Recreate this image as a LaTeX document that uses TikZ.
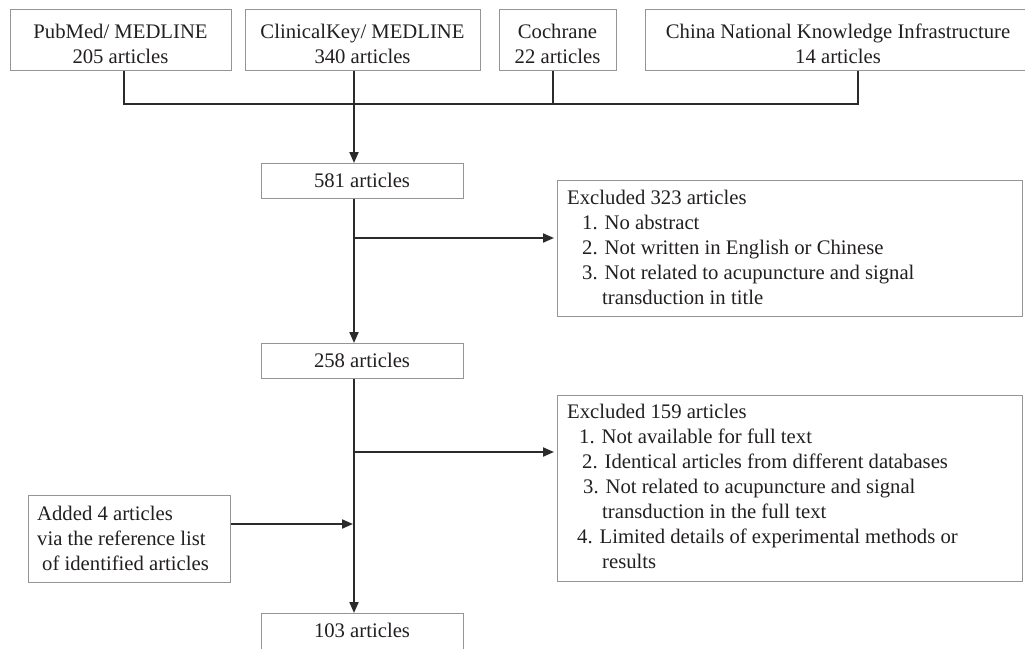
\documentclass[tikz,border=0pt]{standalone}
\usepackage{fontspec}
\setmainfont{Liberation Serif}
\usetikzlibrary{arrows.meta}
\definecolor{boxgray}{HTML}{959595}
\definecolor{linecol}{HTML}{2B2B2B}
\definecolor{txtcol}{HTML}{231F20}
\begin{document}
\begin{tikzpicture}[x=1pt,y=-1pt,
  box/.style={draw=boxgray, line width=1.4pt, inner sep=0pt, anchor=north west},
  txt/.style={inner sep=0pt, text=txtcol, font=\fontsize{20.7}{25}\selectfont},
  conn/.style={draw=linecol, line width=2pt},
  arr/.style={conn, -{Triangle[length=11pt,width=9pt]}}]
\useasboundingbox (0,0) rectangle (1025,648);
\clip (0,0) rectangle (1025,648);
% boxes
\node[box, minimum width=221pt, minimum height=61pt] (pub) at (10,9) {};
\node[box, minimum width=235pt, minimum height=61pt] (ck) at (245,9) {};
\node[box, minimum width=117pt, minimum height=61pt] (coch) at (499,9) {};
\node[box, minimum width=386pt, minimum height=61pt] (cnki) at (645,9) {};
\node[box, minimum width=202pt, minimum height=35pt] (n581) at (261,163) {};
\node[box, minimum width=465pt, minimum height=136pt] (ex1) at (557,180) {};
\node[box, minimum width=202pt, minimum height=35pt] (n258) at (261,343) {};
\node[box, minimum width=465pt, minimum height=186pt] (ex2) at (557,395) {};
\node[box, minimum width=202pt, minimum height=87pt] (added) at (28,495) {};
\node[box, minimum width=202pt, minimum height=40pt] (n103) at (261,613) {};
% texts
\node[txt, anchor=base] (tpub) at (120.5,38) {\begin{tabular}[t]{@{}c@{}}PubMed/ MEDLINE\\205 articles\end{tabular}};
\node[txt, anchor=base] (tck) at (362.5,38) {\begin{tabular}[t]{@{}c@{}}ClinicalKey/ MEDLINE\\340 articles\end{tabular}};
\node[txt, anchor=base] (tcoch) at (557.5,38) {\begin{tabular}[t]{@{}c@{}}Cochrane\\22 articles\end{tabular}};
\node[txt, anchor=base] (tcnki) at (838,38) {\begin{tabular}[t]{@{}c@{}}China National Knowledge Infrastructure\\14 articles\end{tabular}};
\node[txt, anchor=base] (t581) at (362,187) {581 articles};
\node[txt, anchor=base] (t258) at (362,367) {258 articles};
\node[txt, anchor=base] (t103) at (362,637) {103 articles};
\node[txt, anchor=base west] (tex1) at (567,204) {\begin{tabular}[t]{@{}l@{}}Excluded 323 articles\\
\hspace*{15pt}1. No abstract\\
\hspace*{15pt}2. Not written in English or Chinese\\
\hspace*{15pt}3. Not related to acupuncture and signal\\
\hspace*{35pt}transduction in title\end{tabular}};
\node[txt, anchor=base west] (tex2) at (567,418) {\begin{tabular}[t]{@{}l@{}}Excluded 159 articles\\
\hspace*{12pt}1. Not available for full text\\
\hspace*{15pt}2. Identical articles from different databases\\
\hspace*{16pt}3. Not related to acupuncture and signal\\
\hspace*{35pt}transduction in the full text\\
\hspace*{10pt}4. Limited details of experimental methods or\\
\hspace*{35pt}results\end{tabular}};
\node[txt, anchor=base west] (tadd) at (37,520) {\begin{tabular}[t]{@{}l@{}}Added 4 articles\\
via the reference list\\
\hspace*{5pt}of identified articles\end{tabular}};
% junction coordinates
\coordinate (jl) at (124,104);
\coordinate (jc) at (354,104);
\coordinate (jk) at (553,104);
\coordinate (jr) at (858,104);
\coordinate (m1) at (354,238);
\coordinate (m2) at (354,452);
\coordinate (m3) at (354,524);
% connectors
\draw[conn] (pub.south -| jl) -- (jl) -- (jr) -- (cnki.south -| jr);
\draw[conn] (ck.south -| jc) -- (jc);
\draw[conn] (coch.south -| jk) -- (jk);
\draw[arr] (jc) -- (n581.north -| jc);
\draw[conn] (n581.south -| m1) -- (m1);
\draw[arr] (m1) -- (n258.north -| m1);
\draw[arr, shorten >=3pt] (m1) -- (ex1.west |- m1);
\draw[conn] (n258.south -| m2) -- (m2);
\draw[arr] (m2) -- (n103.north -| m2);
\draw[arr, shorten >=3pt] (m2) -- (ex2.west |- m2);
\draw[arr, shorten >=1pt] (added.east |- m3) -- (m3);
\end{tikzpicture}
\end{document}
